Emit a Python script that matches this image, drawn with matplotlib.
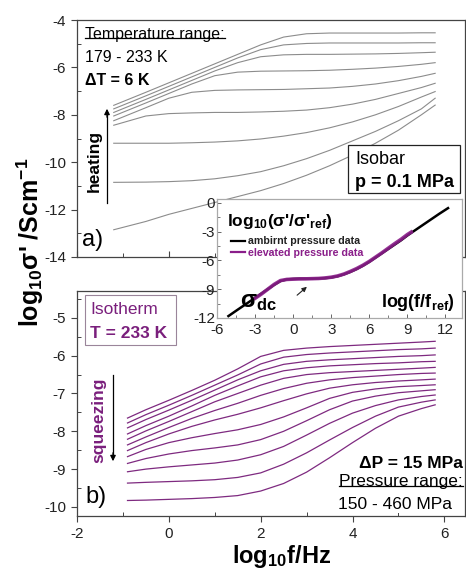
import matplotlib.pyplot as plt
from matplotlib.lines import Line2D
from matplotlib.patches import Rectangle
from matplotlib.ticker import MultipleLocator

plt.rcParams['font.family'] = ['Liberation Sans', 'DejaVu Sans']
plt.rcParams['mathtext.fontset'] = 'custom'
plt.rcParams['mathtext.rm'] = 'Liberation Sans'
plt.rcParams['mathtext.bf'] = 'Liberation Sans:bold'
plt.rcParams['mathtext.it'] = 'Liberation Sans:italic'
plt.rcParams['axes.unicode_minus'] = False

# ---- data ----
# a) isobar, 0.1 MPa, 233 K (top) ... 185 K (bottom)
top_x = [-1.2, -0.5, 0, 0.5, 1, 1.5, 2, 2.5, 3, 3.5, 4, 4.5, 5, 5.5, 5.8]
top_curves = [
    [-7.6, -7.05, -6.65, -6.25, -5.85, -5.45, -5.05, -4.72, -4.58, -4.55, -4.55, -4.55, -4.55, -4.54, -4.54],
    [-7.75, -7.2, -6.8, -6.4, -6.0, -5.6, -5.25, -5.05, -4.99, -4.97, -4.97, -4.97, -4.97, -4.96, -4.96],
    [-7.9, -7.35, -6.95, -6.55, -6.15, -5.8, -5.55, -5.47, -5.45, -5.45, -5.44, -5.43, -5.41, -5.38, -5.36],
    [-8.05, -7.5, -7.1, -6.7, -6.35, -6.2, -6.16, -6.15, -6.14, -6.12, -6.08, -6.03, -5.96, -5.87, -5.8],
    [-8.25, -7.7, -7.3, -7.05, -6.97, -6.95, -6.94, -6.93, -6.9, -6.87, -6.8, -6.7, -6.56, -6.38, -6.25],
    [-8.44, -8.05, -7.95, -7.92, -7.9, -7.9, -7.88, -7.85, -7.8, -7.7, -7.55, -7.35, -7.1, -6.85, -6.67],
    [-9.2, -9.2, -9.2, -9.18, -9.15, -9.1, -9.02, -8.9, -8.75, -8.55, -8.3, -8.0, -7.65, -7.25, -7.02],
    [-10.85, -10.84, -10.82, -10.78, -10.7, -10.57, -10.4, -10.15, -9.85, -9.5, -9.1, -8.7, -8.25, -7.75, -7.3],
    [-12.85, -12.5, -12.2, -11.95, -11.7, -11.45, -11.2, -10.9, -10.55, -10.15, -9.7, -9.2, -8.65, -8.0, -7.59],
]

# b) isotherm, 233 K, 150 MPa (top) ... (bottom)
bot_x = [-0.9, -0.5, 0, 0.5, 1, 1.5, 2, 2.5, 3, 3.5, 4, 4.5, 5, 5.5, 5.8]
bot_curves = [
    [-7.65, -7.43, -7.18, -6.92, -6.65, -6.35, -6.02, -5.86, -5.8, -5.76, -5.73, -5.7, -5.67, -5.64, -5.62],
    [-7.78, -7.56, -7.31, -7.05, -6.78, -6.51, -6.22, -6.04, -5.97, -5.93, -5.9, -5.87, -5.84, -5.82, -5.8],
    [-7.91, -7.69, -7.44, -7.18, -6.91, -6.64, -6.4, -6.23, -6.15, -6.11, -6.08, -6.05, -6.02, -6.0, -5.98],
    [-8.07, -7.85, -7.6, -7.33, -7.05, -6.8, -6.56, -6.4, -6.32, -6.27, -6.24, -6.21, -6.19, -6.16, -6.15],
    [-8.21, -7.99, -7.74, -7.48, -7.22, -7.0, -6.78, -6.6, -6.5, -6.45, -6.42, -6.39, -6.36, -6.33, -6.31],
    [-8.36, -8.15, -7.9, -7.66, -7.45, -7.26, -7.05, -6.87, -6.73, -6.64, -6.58, -6.54, -6.5, -6.47, -6.46],
    [-8.51, -8.3, -8.07, -7.87, -7.7, -7.55, -7.38, -7.19, -7.01, -6.86, -6.77, -6.71, -6.67, -6.64, -6.62],
    [-8.67, -8.48, -8.3, -8.17, -8.06, -7.96, -7.82, -7.62, -7.38, -7.13, -6.97, -6.88, -6.82, -6.79, -6.77],
    [-8.85, -8.72, -8.6, -8.51, -8.44, -8.36, -8.22, -8.0, -7.72, -7.43, -7.2, -7.07, -6.98, -6.93, -6.9],
    [-9.07, -9.0, -8.94, -8.89, -8.84, -8.76, -8.62, -8.4, -8.1, -7.79, -7.52, -7.32, -7.17, -7.08, -7.04],
    [-9.37, -9.35, -9.33, -9.31, -9.28, -9.22, -9.1, -8.87, -8.57, -8.23, -7.9, -7.6, -7.36, -7.23, -7.17],
    [-9.83, -9.82, -9.8, -9.78, -9.75, -9.7, -9.58, -9.38, -9.08, -8.7, -8.3, -7.92, -7.6, -7.4, -7.3],
]

# inset master curve
amb_x = [-5.1, -4.5, -4, -3.5, -3, -2.5, -2, -1.5, -1.0, -0.5, 0, 0.5, 1, 1.5, 2, 2.5, 3, 3.5,
         4, 4.5, 5, 5.5, 6, 6.5, 7, 7.5, 8, 8.5, 9, 9.5, 10, 10.5, 11, 11.5, 12.2]
amb_y = [-11.8, -11.25, -10.8, -10.35, -9.9, -9.45, -9.0, -8.55, -8.15, -7.98, -7.93, -7.9, -7.9,
         -7.9, -7.88, -7.85, -7.78, -7.65, -7.45, -7.2, -6.9, -6.55, -6.15, -5.7, -5.25, -4.8,
         -4.35, -3.9, -3.4, -2.95, -2.5, -2.05, -1.6, -1.15, -0.55]
elev_x = [-3, -2.5, -2, -1.5, -1, -0.5, 0, 0.5, 1, 1.5, 2, 2.5, 3, 3.5, 4, 4.5, 5, 5.5, 6, 6.5,
          7, 7.5, 8, 8.5, 9, 9.3]
elev_y = [-9.95, -9.5, -9.0, -8.5, -8.1, -7.98, -7.95, -7.93, -7.92, -7.9, -7.88, -7.83, -7.75,
          -7.62, -7.42, -7.15, -6.85, -6.5, -6.1, -5.65, -5.2, -4.72, -4.25, -3.8, -3.3, -3.05]

gray = '#8c8c8c'
purple = '#7e2a80'
tpurple = '#7a1f7c'
W, H = 466, 570


def fx(x):
    return x / W


def fy(y):
    return 1 - y / H


fig = plt.figure(figsize=(4.66, 5.70), dpi=100)

ax_top = fig.add_axes([fx(77), fy(257), fx(465) - fx(77), fy(20) - fy(257)])
ax_bot = fig.add_axes([fx(77), fy(516), fx(465) - fx(77), fy(291) - fy(516)])
ax_in = fig.add_axes([fx(217), fy(318), fx(462) - fx(217), fy(199) - fy(318)])

for ys in top_curves:
    ax_top.plot(top_x, ys, color=gray, lw=0.8)
for ys in bot_curves:
    ax_bot.plot(bot_x, ys, color=purple, lw=0.9)

for ax in (ax_top, ax_bot):
    ax.set_xlim(-2, 6.45)
    for s in ax.spines.values():
        s.set_color('#444444')
        s.set_linewidth(0.9)
    ax.xaxis.set_major_locator(MultipleLocator(2))
    ax.xaxis.set_minor_locator(MultipleLocator(1))
    ax.tick_params(which='major', direction='out', length=4, width=0.8,
                   labelsize=11, pad=4, color='#444444', labelcolor='#222222')
    ax.tick_params(which='minor', direction='in', length=3, width=0.7, color='#444444')

ax_top.set_ylim(-14, -4)
ax_top.yaxis.set_major_locator(MultipleLocator(2))
ax_top.yaxis.set_minor_locator(MultipleLocator(1))
ax_top.tick_params(axis='x', which='both', direction='in', labelbottom=False)

ax_bot.set_ylim(-10.24, -4.29)
ax_bot.yaxis.set_major_locator(MultipleLocator(1))
ax_bot.yaxis.set_minor_locator(MultipleLocator(0.5))
ax_bot.set_xticks([-2, 0, 2, 4, 6])

# inset
ax_in.plot(amb_x, amb_y, color='black', lw=1.8, label='ambirnt pressure data')
ax_in.plot(elev_x, elev_y, color='#8a1e8a', lw=2.6, alpha=0.9, label='elevated pressure data')
ax_in.set_xlim(-6, 13.3)
ax_in.set_ylim(-12, 0.4)
ax_in.set_xticks([-6, -3, 0, 3, 6, 9, 12])
ax_in.set_yticks([0, -3, -6, -9, -12])
ax_in.xaxis.set_minor_locator(MultipleLocator(1.5))
ax_in.yaxis.set_minor_locator(MultipleLocator(1.5))
ax_in.tick_params(which='major', direction='in', length=3, width=0.7, labelsize=11,
                  color='#666666', labelcolor='#222222')
ax_in.tick_params(axis='x', which='major', pad=3.5)
ax_in.tick_params(axis='y', which='major', pad=1.5)
ax_in.tick_params(which='minor', direction='in', length=2, width=0.6, color='#666666')
for s in ax_in.spines.values():
    s.set_color('#aaaaaa')
    s.set_linewidth(0.9)
ax_in.set_facecolor('white')
leg = ax_in.legend(loc='upper left', bbox_to_anchor=(0.035, 0.73), frameon=False,
                   handlelength=1.3, handletextpad=0.3, borderpad=0, labelspacing=0.15,
                   prop={'weight': 'bold', 'size': 7.7}, labelcolor=['#222222', '#8a1e8a'])
for h in leg.get_lines():
    h.set_linewidth(1.6)
    h.set_alpha(1)

ax_in.text(fx(227), fy(226), r"log$_\mathbf{10}$(σ'/σ'$_\mathbf{ref}$)", transform=fig.transFigure,
           fontsize=12.5, fontweight='bold')
ax_in.text(fx(240), fy(307), r"σ$_\mathbf{dc}$", transform=fig.transFigure,
           fontsize=17, fontweight='bold')
ax_in.text(fx(455), fy(307), r"log(f/f$_\mathbf{ref}$)", transform=fig.transFigure,
           fontsize=13, fontweight='bold', ha='right')
ax_in.annotate('', xy=(fx(309), fy(285)), xytext=(fx(295), fy(297)),
               xycoords='figure fraction', textcoords='figure fraction',
               arrowprops=dict(arrowstyle='-|>', color='#222222', lw=0.8,
                               mutation_scale=7))

# axis labels
fig.text(fx(30), fy(242), r"log$_\mathbf{10}$σ' /Scm$^\mathbf{-1}$", rotation=90,
         fontsize=18, fontweight='bold', ha='center', va='center')
fig.text(fx(282), fy(557), r"log$_\mathbf{10}$f/Hz", fontsize=17, fontweight='bold',
         ha='center', va='center')

# panel a annotations
t_temp = fig.text(fx(85), fy(39), 'Temperature range:', fontsize=11.5)
fig.text(fx(85), fy(62), '179 - 233 K', fontsize=11.5)
fig.text(fx(85), fy(85), 'ΔT = 6 K', fontsize=11.5, fontweight='bold')
fig.text(fx(94), fy(161), 'heating', rotation=90, fontsize=12.5, fontweight='bold',
         ha='center', va='center')
fig.add_artist(Line2D([fx(107), fx(107)], [fy(203), fy(112)], color='black', lw=0.9))
ax_top.annotate('', xy=(fx(107), fy(106)), xytext=(fx(107), fy(120)),
                xycoords='figure fraction', textcoords='figure fraction',
                arrowprops=dict(arrowstyle='-|>', color='black', lw=0.9, mutation_scale=8))
fig.text(fx(82), fy(246), 'a)', fontsize=17)
fig.add_artist(Rectangle((fx(348), fy(193)), fx(460) - fx(348), fy(145) - fy(193),
                         transform=fig.transFigure, facecolor='white', edgecolor='#222222',
                         lw=0.9, zorder=2))
fig.text(fx(355), fy(164), 'Isobar', fontsize=13, zorder=3)
fig.text(fx(355), fy(187), 'p = 0.1 MPa', fontsize=13, fontweight='bold', zorder=3)

# panel b annotations
fig.add_artist(Rectangle((fx(85), fy(345)), fx(176) - fx(85), fy(295) - fy(345),
                         transform=fig.transFigure, facecolor='white', edgecolor='#9a859a',
                         lw=0.8, zorder=2))
fig.text(fx(90), fy(314), 'Isotherm', fontsize=12.5, color=tpurple, zorder=3)
fig.text(fx(90), fy(338), 'T = 233 K', fontsize=12.5, fontweight='bold', color=tpurple, zorder=3)
fig.text(fx(99), fy(420), 'squeezing', rotation=90, fontsize=12.5, fontweight='bold',
         color=tpurple, ha='center', va='center')
fig.add_artist(Line2D([fx(113), fx(113)], [fy(375), fy(455)], color='black', lw=0.9))
ax_bot.annotate('', xy=(fx(113), fy(464)), xytext=(fx(113), fy(450)),
                xycoords='figure fraction', textcoords='figure fraction',
                arrowprops=dict(arrowstyle='-|>', color='black', lw=0.9, mutation_scale=8))
fig.text(fx(85), fy(503), 'b)', fontsize=17)
wb = dict(facecolor='white', edgecolor='none', pad=0.5)
fig.text(fx(463), fy(468), 'ΔP = 15 MPa', fontsize=12.5, fontweight='bold', ha='right', bbox=wb)
t_pres = fig.text(fx(463), fy(486), 'Pressure range:', fontsize=12.5, ha='right', bbox=wb)
fig.text(fx(338), fy(509), '150 - 460 MPa', fontsize=12.5, bbox=wb)

# underlines under the two "range:" headings
fig.canvas.draw()
r = fig.canvas.get_renderer()
for t, gap in ((t_temp, 4), (t_pres, 3)):
    bb = t.get_window_extent(renderer=r)
    x0, y0 = fig.transFigure.inverted().transform((bb.x0, bb.y0 + gap))
    x1, _ = fig.transFigure.inverted().transform((bb.x1, bb.y0 + gap))
    fig.add_artist(Line2D([x0, x1], [y0, y0], color='black', lw=0.9, zorder=4))

fig.savefig('out.png', dpi=100)
